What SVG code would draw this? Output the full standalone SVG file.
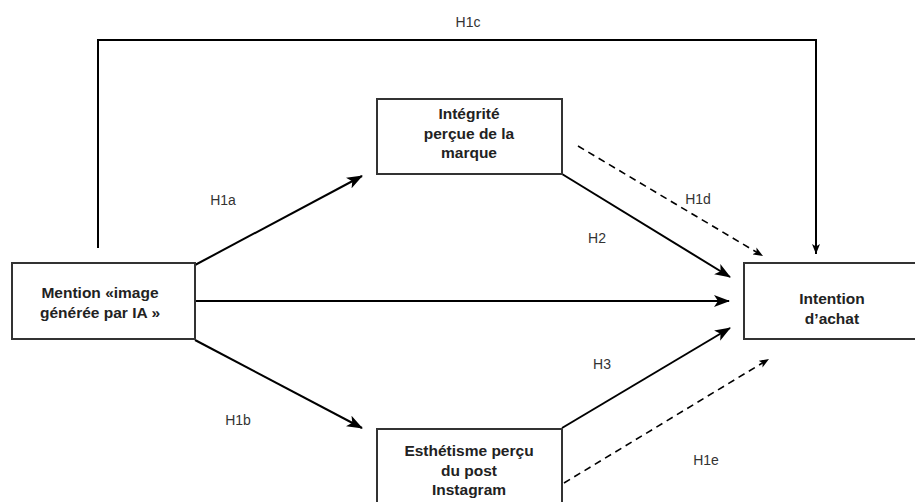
<svg xmlns="http://www.w3.org/2000/svg" width="915" height="502" viewBox="0 0 915 502">
<defs>
<marker id="big" viewBox="0 0 16 12" refX="15" refY="6" markerWidth="16" markerHeight="12" markerUnits="userSpaceOnUse" orient="auto">
<path d="M0,0 L16,6 L0,12 L4,6 Z" fill="#000"/>
</marker>
<marker id="small" viewBox="0 0 10 8" refX="10" refY="4" markerWidth="10" markerHeight="8" markerUnits="userSpaceOnUse" orient="auto">
<path d="M0,0 L10,4 L0,8 L2.5,4 Z" fill="#000"/>
</marker>
</defs>
<style>
.box{fill:#fff;stroke:#333;stroke-width:2}
.bt{font-family:"Liberation Sans",Arial,sans-serif;font-weight:bold;font-size:15.5px;fill:#222;text-anchor:middle}
.lb{font-family:"Liberation Sans",Arial,sans-serif;font-size:14px;fill:#333;text-anchor:middle}
.c{fill:none;stroke:#000;stroke-width:2}
.d{fill:none;stroke:#000;stroke-width:1.6;stroke-dasharray:7,5}
</style>
<rect width="915" height="502" fill="#fff"/>
<g id="connectors">
<path class="c" d="M98,248 V40 H816 V254" stroke-width="1.6" marker-end="url(#small)"/>
<line class="c" x1="195" y1="265" x2="362" y2="176" marker-end="url(#big)"/>
<line class="c" x1="195" y1="340" x2="362" y2="428" marker-end="url(#big)"/>
<line class="c" x1="195" y1="301" x2="729" y2="301" marker-end="url(#big)"/>
<line class="c" x1="562" y1="174" x2="730" y2="277" marker-end="url(#big)"/>
<line class="c" x1="562" y1="428" x2="730" y2="328" marker-end="url(#big)"/>
<line class="d" x1="578" y1="146" x2="763" y2="256" marker-end="url(#small)"/>
<line class="d" x1="564" y1="483" x2="769" y2="359" marker-end="url(#small)"/>
<text class="lb" x="468" y="27">H1c</text>
<text class="lb" x="223" y="205">H1a</text>
<text class="lb" x="238" y="425">H1b</text>
<text class="lb" x="597" y="243">H2</text>
<text class="lb" x="698" y="204">H1d</text>
<text class="lb" x="602" y="369">H3</text>
<text class="lb" x="706" y="465">H1e</text>
</g>
<g id="mention">
<rect class="box" x="12" y="263" width="183" height="76"/>
<text class="bt" x="100" y="298">Mention «image</text>
<text class="bt" x="100" y="318">générée par IA »</text>
</g>
<g id="integrite">
<rect class="box" x="377" y="99" width="185" height="75"/>
<text class="bt" x="469" y="119">Intégrité</text>
<text class="bt" x="469" y="139">perçue de la</text>
<text class="bt" x="469" y="158">marque</text>
</g>
<g id="esthetisme">
<rect class="box" x="377" y="429" width="185" height="85"/>
<text class="bt" x="469" y="456">Esthétisme perçu</text>
<text class="bt" x="469" y="476">du post</text>
<text class="bt" x="469" y="495">Instagram</text>
</g>
<g id="intention">
<rect class="box" x="744" y="263" width="190" height="76"/>
<text class="bt" x="832" y="304">Intention</text>
<text class="bt" x="832" y="324">d’achat</text>
</g>
</svg>
